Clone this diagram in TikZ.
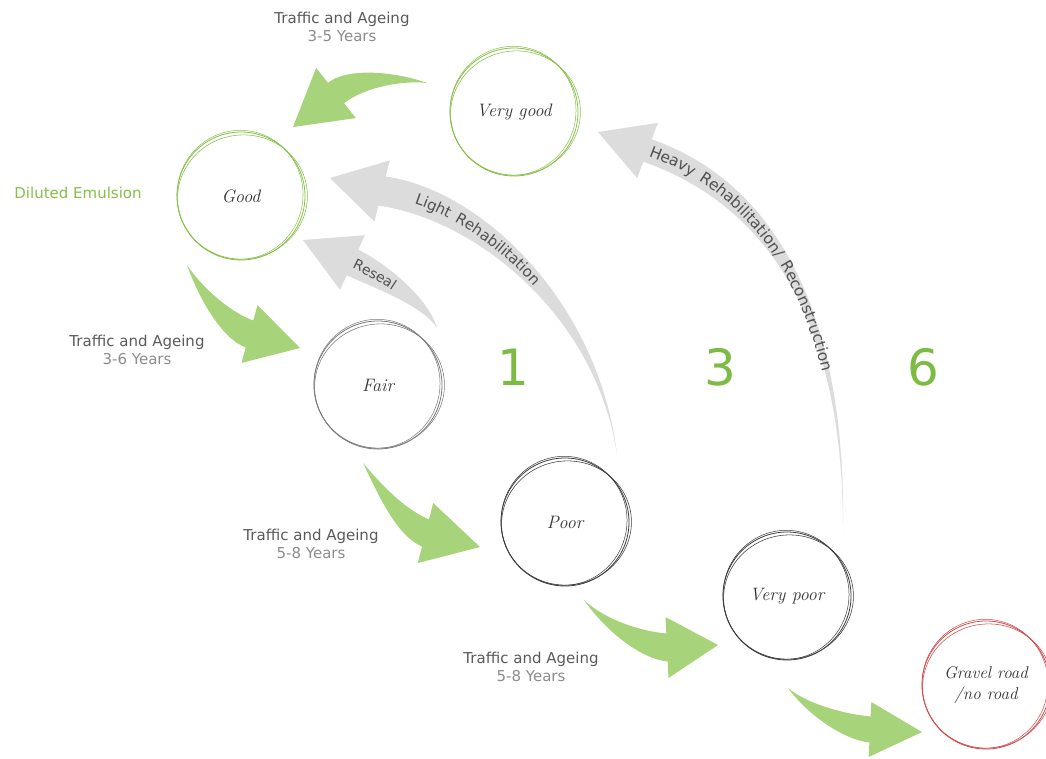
\documentclass[tikz,border=0pt]{standalone}
\usepackage{fontspec}
\newfontfamily\labelfont{DejaVu Sans}
\newfontfamily\bandfont[LetterSpace=18]{DejaVu Sans}
\usetikzlibrary{calc,decorations.text}

\definecolor{leaf}{HTML}{A7D37B}
\definecolor{leafdark}{HTML}{86C048}
\definecolor{digitgreen}{HTML}{7DBB45}
\definecolor{band}{HTML}{DCDCDC}
\definecolor{bandtext}{HTML}{505050}
\definecolor{labeldark}{HTML}{5A5A5A}
\definecolor{labellight}{HTML}{8C8C8C}
\definecolor{ringgray}{HTML}{7A7A7A}
\definecolor{ringdark}{HTML}{3C3C3C}
\definecolor{ringred}{HTML}{D24B4B}

% Curved arrow with a pointed tail and a triangular head.
% #1 name, #2 fill, #3 tail, #4 #5 centre-line controls, #6 head base, #7 tip,
% #8 half body width at the head, #9 half head width
\newcommand\fatarrow[9]{%
  \coordinate (#1-tail) at (#3);
  \coordinate (#1-c1) at (#4);
  \coordinate (#1-c2) at (#5);
  \coordinate (#1-base) at (#6);
  \coordinate (#1-tip) at (#7);
  \coordinate (#1-b1) at ($(#1-base)!#8!90:(#1-tip)$);
  \coordinate (#1-b2) at ($(#1-base)!#8!-90:(#1-tip)$);
  \coordinate (#1-p1) at ($(#1-base)!#9!90:(#1-tip)$);
  \coordinate (#1-p2) at ($(#1-base)!#9!-90:(#1-tip)$);
  \fill[#2] (#1-tail)
    .. controls ($(#1-c1)+0.4*(#1-b1)-0.4*(#1-base)$) and ($(#1-c2)+(#1-b1)-(#1-base)$) .. (#1-b1)
    -- (#1-p1) -- (#1-tip) -- (#1-p2) -- (#1-b2)
    .. controls ($(#1-c2)+(#1-b2)-(#1-base)$) and ($(#1-c1)+0.4*(#1-b2)-0.4*(#1-base)$) .. (#1-tail)
    -- cycle;
}

% Pencil-like extra strokes around a ring node
\newcommand\ringstrokes[2]{%
  \draw[#2, line width=0.55pt] ([shift={(1.5,1)}]#1.center) ellipse [x radius=65pt, y radius=62pt, rotate=10];
  \draw[#2, line width=0.5pt] ([shift={(-1,-1.2)}]#1.center) ellipse [x radius=63pt, y radius=64.5pt, rotate=-6];
}

\begin{document}
\begin{tikzpicture}[x=1pt,y=-1pt,
  ring/.style={circle, minimum size=128pt, inner sep=0pt, line width=0.8pt,
    font=\fontsize{18}{20}\selectfont\itshape, text=black!80, align=center},
  agelabel/.style={font=\labelfont\fontsize{15}{18.5}\selectfont, align=center, inner sep=0pt},
  digit/.style={font=\labelfont\fontsize{50}{50}\selectfont, text=digitgreen, inner sep=0pt},
  bandtext/.style={decorate, decoration={text along path, raise=-5pt,
    text align={left, left indent=#1}}},
]
\fill[white] (0,0) rectangle (1046,758);
\useasboundingbox (0,0) rectangle (1046,758);

% grey repair arrows
\fatarrow{reseal}{band}{437,328}{425,300}{375,273}{352.5,262.5}{303,240}{14pt}{30pt}
\fatarrow{light}{band}{617,455}{598,310}{480,205}{382,191}{330,178}{15pt}{31.5pt}
\fatarrow{heavy}{band}{843,530}{845,300}{760,190}{647.5,150.5}{598,132}{12pt}{29.5pt}

\path[bandtext=2pt, decoration={text={|\bandfont\fontsize{14}{16}\selectfont\color{bandtext}|Reseal}}]
  (reseal-base) .. controls (reseal-c2) and (reseal-c1) .. (reseal-tail);
\path[bandtext=35pt, decoration={text={|\bandfont\fontsize{15}{17}\selectfont\color{bandtext}|Light Rehabilitation}}]
  (light-base) .. controls (light-c2) and (light-c1) .. (light-tail);
\path[bandtext=3pt, decoration={text={|\bandfont\fontsize{15.5}{17}\selectfont\color{bandtext}|Heavy Rehabilitation/ Reconstruction}}]
  (heavy-base) .. controls (heavy-c2) and (heavy-c1) .. (heavy-tail);

% green ageing arrows
\fatarrow{age1}{leaf}{427,83}{400,76}{356,77}{336,93}{293,127}{13pt}{32pt}
\fatarrow{age2}{leaf}{187,265}{200,292}{225,325}{249.5,334}{300,348}{14pt}{30pt}
\fatarrow{age3}{leaf}{363,463}{380,490}{400,522}{425.5,533}{480,547}{14pt}{31pt}
\fatarrow{age4}{leaf}{584,600}{605,625}{640,645}{667,647.5}{718,645}{14pt}{30.5pt}
\fatarrow{age5}{leaf}{788,688}{808,710}{845,727}{870,729.5}{922,732}{13pt}{27.5pt}

% condition rings
\node[ring, draw=leafdark] (verygood) at (514,112) {Very good};
\node[ring, draw=leafdark] (good) at (241,196) {Good};
\node[ring, draw=ringgray] (fair) at (378,385) {Fair};
\node[ring, draw=ringdark] (poor) at (565,522) {Poor};
\node[ring, draw=ringdark] (verypoor) at (787,596) {Very poor};
\node[ring, draw=ringred, font=\fontsize{17}{21}\selectfont\itshape] (gravel) at (986,685) {Gravel road\\/no road};
\ringstrokes{verygood}{leafdark}
\ringstrokes{good}{leafdark}
\ringstrokes{fair}{ringgray}
\ringstrokes{poor}{ringdark}
\ringstrokes{verypoor}{ringdark}
\ringstrokes{gravel}{ringred}

% labels
\node[agelabel] (lab1) at (342,27) {{\color{labeldark}Traffic and Ageing}\\{\color{labellight}3-5 Years}};
\node[agelabel] (lab2) at (137,350) {{\color{labeldark}Traffic and Ageing}\\{\color{labellight}3-6 Years}};
\node[agelabel] (lab3) at (311,544) {{\color{labeldark}Traffic and Ageing}\\{\color{labellight}5-8 Years}};
\node[agelabel] (lab4) at (531,667) {{\color{labeldark}Traffic and Ageing}\\{\color{labellight}5-8 Years}};
\node[agelabel, text=leafdark] (emulsion) at (78,193) {Diluted Emulsion};

% treatment cost figures
\node[digit] (d1) at (513,367) {1};
\node[digit] (d3) at (720,367) {3};
\node[digit] (d6) at (923,367) {6};
\end{tikzpicture}
\end{document}
